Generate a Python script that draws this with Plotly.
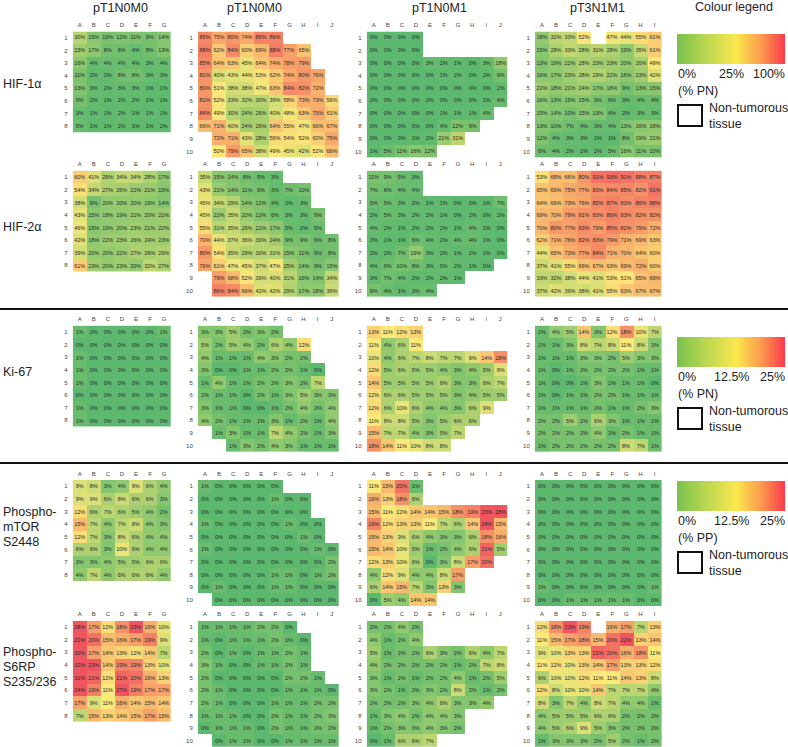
import plotly.graph_objects as go

_ = None
HIF1_A = [[30,15,10,12,11,9,14],[23,17,8,8,4,8,13],[16,4,4,4,4,3,4],[11,2,2,8,8,3,3],[13,3,2,3,3,1,1],[9,2,1,2,2,1,1],[3,1,1,2,1,1,1],[5,1,1,2,1,1,2]]
HIF1_B = [[85,75,80,74,86,86,_,_,_,_],[88,62,84,60,69,88,77,65,_,_],[85,64,63,45,64,74,78,79,_,_],[81,40,43,44,53,62,74,80,76,_],[80,51,38,38,47,63,84,82,72,_],[81,52,33,32,30,39,58,73,73,56],[84,49,30,24,26,40,48,63,75,61],[66,71,40,24,26,64,55,47,66,67],[_,72,71,43,28,56,54,52,60,75],[_,50,79,65,38,49,45,42,52,66]]
HIF1_C = [[0,0,0,0,_,_,_,_,_,_],[0,0,0,0,_,_,_,_,_,_],[0,0,0,0,3,2,1,0,3,18],[0,0,0,0,0,1,2,0,2,9],[0,0,0,0,0,0,0,0,0,2],[0,0,0,0,0,0,0,0,1,4],[0,0,0,0,0,1,1,1,4,_],[0,0,0,0,0,4,12,9,_,_],[0,0,0,1,2,21,31,_,_,_],[1,5,11,16,12,_,_,_,_,_]]
HIF1_D = [[18,32,33,52,_,47,44,55,61],[15,28,33,28,31,28,19,35,61],[13,19,22,28,23,23,20,26,49],[16,17,23,28,29,22,16,23,42],[22,18,21,24,17,18,9,13,15],[16,13,15,15,9,6,3,4,4],[15,14,10,15,13,4,2,3,3],[13,10,7,4,3,4,13,16,18],[12,4,3,3,1,1,8,19,21],[6,4,2,1,2,5,16,11,10]]

HIF2_A = [[60,41,28,34,34,28,17],[54,34,27,26,22,21,15],[38,9,20,20,20,19,14],[43,15,18,19,21,20,21],[46,15,19,20,23,21,22],[42,18,22,23,26,24,23],[39,20,20,22,27,26,29],[61,23,20,23,20,32,27]]
HIF2_B = [[35,15,14,8,5,3,_,_,_,_],[43,21,14,11,9,3,7,10,_,_],[45,34,29,14,12,4,2,3,_,_],[45,22,35,20,13,6,3,3,9,_],[55,31,35,26,22,17,5,2,5,_],[70,44,37,36,30,24,9,9,6,8],[80,54,35,29,30,31,15,11,6,8],[76,61,47,45,37,47,25,14,9,15],[_,79,68,52,39,40,31,16,14,34],[_,86,84,66,42,42,29,17,18,36]]
HIF2_C = [[11,9,5,3,_,_,_,_,_,_],[7,6,4,4,_,_,_,_,_,_],[5,5,3,2,1,1,0,0,1,7],[2,5,3,2,2,1,0,2,0,2],[4,2,1,2,2,2,1,4,1,0],[2,1,1,6,4,2,4,4,1,0],[2,2,7,19,3,2,1,2,1,0],[4,6,10,8,3,5,2,1,0,_],[3,7,4,2,2,2,1,_,_,_],[9,4,1,3,4,_,_,_,_,_]]
HIF2_D = [[53,68,66,80,91,93,91,88,87],[65,69,75,77,83,84,85,82,91],[64,66,73,76,85,87,83,86,88],[69,70,79,81,83,86,83,82,82],[70,80,77,83,79,85,82,79,72],[62,71,76,82,83,79,71,69,63],[44,65,73,77,84,71,70,64,60],[37,41,55,66,67,63,69,72,60],[33,32,38,44,41,53,51,65,69],[37,42,39,38,41,55,63,67,67]]

KI67_A = [[1,0,0,0,0,0,1],[0,0,0,0,0,0,0],[1,0,0,0,0,0,0],[1,0,0,0,0,0,0],[1,0,0,0,0,0,0],[0,0,0,0,0,0,0],[1,0,0,0,0,0,0],[1,0,0,0,0,0,0]]
KI67_B = [[3,3,5,2,3,2,_,_,_,_],[5,2,5,4,2,6,4,12,_,_],[4,1,1,1,4,3,2,2,_,_],[3,0,0,1,1,2,2,1,0,_],[1,4,1,1,2,2,3,2,7,_],[2,1,1,0,2,1,3,5,3,3],[3,1,1,0,0,1,2,4,2,4],[4,2,1,1,1,3,1,2,1,4],[_,1,3,1,1,7,4,2,1,3],[_,_,1,3,2,4,3,1,1,1]]
KI67_C = [[13,11,12,13,_,_,_,_,_,_],[11,4,6,11,_,_,_,_,_,_],[10,4,6,7,8,7,7,9,14,18],[12,5,6,5,5,4,3,4,5,9],[14,5,5,5,5,6,3,3,6,7],[12,6,6,5,5,5,3,4,5,5],[12,6,10,6,4,4,3,6,9,_],[11,8,8,5,3,5,6,6,_,_],[15,7,7,4,3,5,7,_,_,_],[18,14,11,10,8,8,_,_,_,_]]
KI67_D = [[1,4,5,14,3,12,18,10,7],[1,1,3,8,7,8,11,8,3],[1,1,1,3,3,2,5,3,3],[1,0,1,2,2,2,2,1,1],[1,0,0,1,3,1,1,1,0],[1,0,1,1,2,2,1,1,1],[1,1,1,1,2,1,1,2,3],[2,2,5,2,6,3,1,1,1],[2,2,2,2,4,1,2,1,1],[1,2,2,2,2,2,8,7,1]]

MTOR_A = [[9,8,3,4,9,6,4],[9,9,6,8,6,6,3],[12,6,7,6,5,4,2],[15,7,4,7,8,4,3],[12,7,3,8,6,4,4],[6,6,3,10,6,4,4],[3,3,4,5,5,6,6],[4,7,4,6,6,6,4]]
MTOR_B = [[1,0,0,0,0,0,_,_,_,_],[0,0,0,0,0,1,0,0,_,_],[0,0,0,0,0,0,0,0,_,_],[1,0,0,0,0,0,1,0,0,_],[0,0,0,0,0,0,0,1,0,_],[1,0,0,0,0,0,0,0,1,0],[0,0,0,0,0,0,0,0,0,2],[0,0,0,0,0,1,1,0,1,2],[0,1,0,0,0,1,1,0,0,0],[_,0,0,0,0,0,0,0,0,0]]
MTOR_C = [[11,15,20,1,_,_,_,_,_,_],[16,13,18,6,_,_,_,_,_,_],[15,11,12,14,14,15,18,19,23,28],[19,12,13,13,11,7,6,14,24,15],[15,13,9,6,4,3,3,6,18,16],[15,14,10,5,1,2,4,6,21,5],[12,13,10,6,0,3,8,17,20,_],[4,12,9,4,4,8,17,_,_,_],[6,14,15,7,3,13,3,_,_,_],[0,5,4,14,14,_,_,_,_,_]]
MTOR_D = [[0,0,0,0,0,0,0,0,0],[0,0,0,0,0,0,0,0,0],[0,0,0,0,0,0,0,0,0],[0,0,0,0,0,0,0,0,0],[0,0,0,0,0,0,0,0,0],[0,0,0,0,0,0,0,0,0],[0,0,0,0,0,0,0,0,0],[0,0,0,0,0,0,0,0,0],[1,0,0,0,0,0,0,0,1],[0,0,1,1,1,1,1,0,0]]

S6_A = [[28,17,12,18,23,16,10],[22,20,15,16,17,19,9],[30,17,14,13,12,14,7],[32,23,14,19,19,13,10],[31,21,12,21,20,16,13],[24,19,11,27,19,17,17],[17,9,11,16,14,15,14],[7,15,13,14,15,17,15]]
S6_B = [[1,1,1,1,2,2,0,_,_,_],[1,0,1,1,1,2,1,0,_,_],[2,0,1,0,1,1,2,1,_,_],[3,1,0,0,1,1,2,1,_,_],[2,0,0,0,0,0,2,2,1,_],[2,1,0,0,0,0,1,1,1,0],[2,1,0,0,0,1,1,1,2,2],[1,1,1,0,0,2,1,1,2,3],[0,1,1,1,0,2,1,1,2,2],[_,0,1,1,0,0,1,1,1,1]]
S6_C = [[2,2,4,2,_,_,_,_,_,_],[4,1,2,4,_,_,_,_,_,_],[5,1,2,2,6,3,2,6,4,7],[4,2,2,2,2,2,1,2,7,8],[3,1,2,1,2,2,4,1,2,5],[3,2,1,2,3,2,8,2,1,2],[2,2,2,3,4,6,3,3,4,_],[1,3,4,2,4,4,3,_,_,_],[1,2,3,3,4,3,2,_,_,_],[0,1,6,6,7,_,_,_,_,_]]
S6_D = [[12,18,23,19,_,16,17,7,13],[11,15,17,18,15,20,22,13,14],[9,10,13,13,21,20,16,18,11],[11,12,10,13,14,17,13,13,12],[6,10,10,12,11,11,14,13,8],[12,8,10,10,14,7,7,7,4],[8,3,7,4,8,7,4,4,1],[4,5,5,5,6,6,2,2,2],[4,5,6,9,5,3,2,2,2],[1,3,3,3,2,5,2,1,2]]

COLUMN_TITLES = ["pT1N0M0", "pT1N0M0", "pT1N0M1", "pT3N1M1"]
COL_LETTERS = list("ABCDEFGHIJ")
ROW_GROUPS = [
    [HIF1_A, HIF1_B, HIF1_C, HIF1_D],
    [HIF2_A, HIF2_B, HIF2_C, HIF2_D],
    [KI67_A, KI67_B, KI67_C, KI67_D],
    [MTOR_A, MTOR_B, MTOR_C, MTOR_D],
    [S6_A, S6_B, S6_C, S6_D],
]
ROW_LABELS = [
    (["HIF-1α"], 84), (["HIF-2α"], 227), (["Ki-67"], 372),
    (["Phospho-", "mTOR", "S2448"], 512), (["Phospho-", "S6RP", "S235/236"], 652),
]
LEGEND_TICKS = [("0%", "25%", "100%", "(% PN)"), ("0%", "12.5%", "25%", "(% PN)"), ("0%", "12.5%", "25%", "(% PP)")]
LEGEND_RANGE = [[0, 50, 100], [0, 12.5, 25], [0, 12.5, 25]]

W, H = 788, 747
FONT = "Liberation Sans"
TXT = "#222222"
CELL_W = 14.07
CELL_H = 12.63
PANEL_LEFT = [72.7, 198, 366.7, 535]
ROW_TOP = [31.5, 170.6, 325.6, 480, 620.7]
ROW_ZMAX = [100, 100, 22, 22, 22]
LEG_TOP = [34, 337, 481]
LEG_X0, LEG_X1 = 677.3, 785.3
LEG_H = 30.3

CELL_SCALE = [[0, "#5cb86e"], [0.25, "#a5cf6f"], [0.5, "#fbe97a"], [0.75, "#f8a86a"], [1, "#ef5560"]]
LEG_SCALE = [[0, "#78c24e"], [0.25, "#b6d552"], [0.55, "#fbe84e"], [0.78, "#fc9a4e"], [1, "#fb3a4c"]]

fig = go.Figure()
layout = {}
n = 0
for r, panels in enumerate(ROW_GROUPS):
    for c, z in enumerate(panels):
        n += 1
        sfx = "" if n == 1 else str(n)
        rows = len(z)
        cols = len(z[0])
        x0 = PANEL_LEFT[c]
        y0 = ROW_TOP[r]
        text = [["" if v is None else f"{v}%" for v in row] for row in z]
        fig.add_trace(go.Heatmap(
            z=z, x=COL_LETTERS[:cols], y=[str(i + 1) for i in range(rows)],
            text=text, texttemplate="%{text}",
            textfont=dict(size=5.5, color="#2a2a2a", family=FONT),
            colorscale=CELL_SCALE, zmin=0, zmax=ROW_ZMAX[r], showscale=False,
            hoverongaps=False, xaxis="x" + sfx, yaxis="y" + sfx, xgap=0, ygap=0,
        ))
        layout["xaxis" + sfx] = dict(
            domain=[x0 / W, (x0 + cols * CELL_W) / W], anchor="y" + sfx, side="top", type="category",
            showgrid=False, zeroline=False, showline=False, ticks="outside", ticklen=1, tickcolor="rgba(0,0,0,0)",
            tickfont=dict(size=6, color="#444444", family=FONT), tickangle=0, fixedrange=True,
            range=[-0.5, cols - 0.5],
        )
        layout["yaxis" + sfx] = dict(
            domain=[1 - (y0 + rows * CELL_H) / H, 1 - y0 / H], anchor="x" + sfx, type="category",
            showgrid=False, zeroline=False, showline=False, ticks="outside", ticklen=3, tickcolor="rgba(0,0,0,0)",
            tickfont=dict(size=6, color="#444444", family=FONT), fixedrange=True,
            range=[rows - 0.5, -0.5],
        )

annotations = []
shapes = []
def label(x, y, s, anchor="left"):
    annotations.append(dict(x=x / W, y=1 - y / H, xref="paper", yref="paper", text=s, showarrow=False,
                            xanchor=anchor, yanchor="middle", xshift=0, borderpad=0,
                            font=dict(size=12.5, color=TXT, family=FONT)))

for c, t in enumerate(COLUMN_TITLES):
    cx = [121, 254, 439, 597][c]
    label(cx, 8, t, "center")
label(734, 7, "Colour legend", "center")

for lines, y in ROW_LABELS:
    for i, s in enumerate(lines):
        label(2, y + i * 15, s)

for i, top in enumerate(LEG_TOP):
    n += 1
    rng = LEGEND_RANGE[i]
    ca = f"coloraxis{i + 2}"
    fig.add_trace(go.Heatmap(z=[rng], coloraxis=ca, xaxis=f"x{n}", yaxis=f"y{n}", hoverinfo="skip"))
    layout[f"xaxis{n}"] = dict(domain=[LEG_X0 / W, LEG_X1 / W], anchor=f"y{n}", visible=False)
    layout[f"yaxis{n}"] = dict(domain=[1 - (top + LEG_H) / H, 1 - top / H], anchor=f"x{n}", visible=False)
    layout[ca] = dict(
        colorscale=LEG_SCALE, cmin=rng[0], cmax=rng[2],
        colorbar=dict(orientation="h", x=LEG_X0 / W, xanchor="left", y=1 - (top + LEG_H) / H, yanchor="bottom",
                      xref="paper", yref="paper",
                      thickness=LEG_H, thicknessmode="pixels", len=LEG_X1 - LEG_X0, lenmode="pixels",
                      xpad=0, ypad=0, outlinewidth=0, borderwidth=0, ticks="", showticklabels=False),
    )
    a, b, d, unit = LEGEND_TICKS[i]
    label(LEG_X0, top + 40, a)
    label((LEG_X0 + LEG_X1) / 2, top + 40, b, "center")
    label(LEG_X1 + 1, top + 40, d, "right")
    label(LEG_X0, top + 57, unit)
    shapes.append(dict(type="rect", xref="paper", yref="paper", x0=678 / W, x1=702 / W,
                       y0=1 - (top + 92) / H, y1=1 - (top + 71) / H,
                       line=dict(color="#111111", width=2), fillcolor="white"))
    label(708, top + 74, "Non-tumorous")
    label(708, top + 90, "tissue")

for y in (309, 463):
    shapes.append(dict(type="line", xref="paper", yref="paper", x0=0, x1=1, y0=1 - y / H, y1=1 - y / H,
                       line=dict(color="#111111", width=2)))

fig.update_layout(width=W, height=H, margin=dict(l=0, r=0, t=0, b=0, autoexpand=False),
                  paper_bgcolor="white", plot_bgcolor="white", annotations=annotations, shapes=shapes,
                  showlegend=False, font=dict(family=FONT), **layout)
fig.write_html("out.html", config={"displayModeBar": False},
               post_script="document.body.style.margin='0';document.documentElement.style.overflow='hidden';")
